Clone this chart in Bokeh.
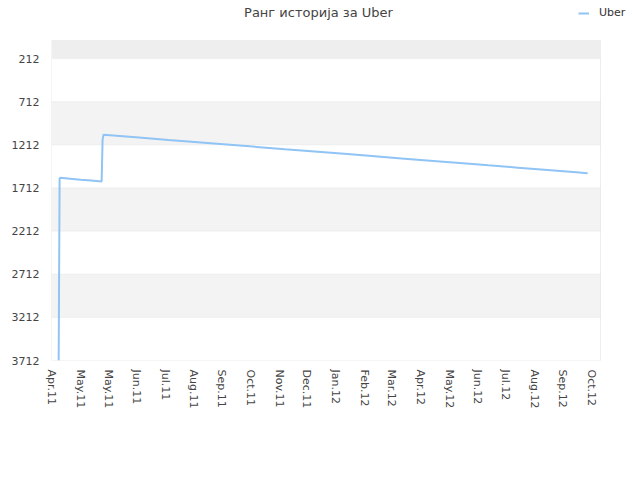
import pandas as pd
from bokeh.plotting import figure
from bokeh.models import (Range1d, FixedTicker, DatetimeTickFormatter, BoxAnnotation,
                          Legend, LegendItem, ColumnDataSource, Label)
from bokeh.embed import file_html
from bokeh.resources import INLINE

title_text = "Ранг историја за Uber"
series_name = "Uber"

dates = ["2011-04-08", "2011-04-09", "2011-04-10", "2011-04-20", "2011-05-01",
         "2011-05-12", "2011-05-23", "2011-05-24", "2011-05-25", "2011-06-01",
         "2011-07-01", "2011-08-01", "2011-09-01", "2011-10-01", "2011-11-01",
         "2011-12-01", "2012-01-01", "2012-02-01", "2012-03-01", "2012-04-01",
         "2012-05-01", "2012-06-01", "2012-07-01", "2012-08-01", "2012-09-01",
         "2012-10-01", "2012-10-13"]
ranks = [3712, 1600, 1592, 1603, 1615,
         1625, 1635, 1150, 1094, 1100,
         1126, 1154, 1181, 1207, 1234,
         1261, 1288, 1315, 1341, 1368,
         1394, 1421, 1448, 1475, 1502,
         1528, 1539]

tick_dates = ["2011-04-01", "2011-05-01", "2011-05-30", "2011-06-29", "2011-07-29",
              "2011-08-27", "2011-09-26", "2011-10-26", "2011-11-25", "2011-12-24",
              "2012-01-23", "2012-02-22", "2012-03-22", "2012-04-21", "2012-05-21",
              "2012-06-20", "2012-07-19", "2012-08-18", "2012-09-17", "2012-10-17"]
y_ticks = [212, 712, 1212, 1712, 2212, 2712, 3212, 3712]

LINE_COLOR = "#90c4f5"
FONT = "DejaVu Sans"

# plot-area extent (the boxed area), and layout sizes in px
x_start = pd.Timestamp("2011-03-31 12:00")
x_end = pd.Timestamp("2012-10-26 10:00")
y_top, y_bottom = 0, 3712
AREA_W, AREA_H = 549, 320          # boxed plot area
EXTRA_R, EXTRA_T = 40, 40          # frame extends right/up for title + legend

x_span = x_end - x_start
frame_x_end = x_end + x_span * (EXTRA_R / AREA_W)
frame_y_top = y_top - (y_bottom - y_top) * (EXTRA_T / AREA_H)

def ms(t):
    return pd.Timestamp(t).value / 1e6

src = ColumnDataSource(dict(x=pd.to_datetime(dates), y=ranks))

p = figure(frame_width=AREA_W + EXTRA_R, frame_height=AREA_H + EXTRA_T, x_axis_type="datetime",
           x_range=Range1d(x_start, frame_x_end), y_range=Range1d(y_bottom, frame_y_top),
           output_backend="svg", toolbar_location=None,
           min_border_left=51, min_border_right=0, min_border_top=0, min_border_bottom=112)
p.outline_line_color = None
p.background_fill_color = "white"
p.border_fill_color = "white"
p.xgrid.grid_line_color = None
p.ygrid.grid_line_color = None

L, R = ms(x_start), ms(x_end)
# top band above the first tick
p.add_layout(BoxAnnotation(left=L, right=R, top=y_top, bottom=y_ticks[0], fill_color="#eeeeee",
                           fill_alpha=1, line_color=None, level="underlay"))
# alternating bands with grid lines on their edges
for i in range(len(y_ticks) - 1):
    p.add_layout(BoxAnnotation(left=L, right=R, top=y_ticks[i], bottom=y_ticks[i + 1],
                               fill_color="#f3f3f3" if i % 2 == 1 else "#ffffff", fill_alpha=1,
                               line_color="#e0e0e0", line_width=1, level="underlay"))
# plot-area border
p.add_layout(BoxAnnotation(left=L, right=R, top=y_top, bottom=y_bottom, fill_alpha=0,
                           line_color="#d8d8d8", line_width=1, level="underlay"))

r = p.line("x", "y", source=src, line_color=LINE_COLOR, line_width=2)

p.yaxis.ticker = FixedTicker(ticks=y_ticks)
p.xaxis.ticker = FixedTicker(ticks=[ms(d) for d in tick_dates])
fmt = "%b.%y"
p.xaxis.formatter = DatetimeTickFormatter(milliseconds=fmt, seconds=fmt, minsec=fmt, minutes=fmt,
                                          hourmin=fmt, hours=fmt, days=fmt, months=fmt, years=fmt)
p.xaxis.major_label_orientation = "vertical"

for ax in (p.xaxis, p.yaxis):
    ax.axis_line_color = None
    ax.major_tick_line_color = None
    ax.minor_tick_line_color = None
    ax.major_tick_out = 0
    ax.major_tick_in = 0
    ax.major_label_text_font = FONT
    ax.major_label_text_font_size = "11px"
    ax.major_label_text_color = "#444444"
p.yaxis.major_label_standoff = 12
p.xaxis.major_label_standoff = 9

# title (centred at px 318, 12 from top of canvas)
title_x = x_start + x_span * ((318 - 51) / AREA_W)
title_y = y_top - (y_bottom - y_top) * ((40 - 12) / AREA_H)
p.add_layout(Label(x=ms(title_x), y=title_y, text=title_text, text_align="center",
                   text_baseline="middle", text_font=FONT, text_font_size="13px",
                   text_color="#444444"))

legend = Legend(items=[LegendItem(label=series_name, renderers=[r])],
                location=(578 - 51, AREA_H + EXTRA_T - 19),
                border_line_color=None, background_fill_alpha=0, label_text_font=FONT,
                label_text_font_size="11px", label_text_color="#333333", glyph_width=11,
                glyph_height=12, label_height=12, padding=0, margin=0, label_standoff=10,
                spacing=0)
p.add_layout(legend, "center")

open("out.html", "w").write(file_html(p, INLINE))
